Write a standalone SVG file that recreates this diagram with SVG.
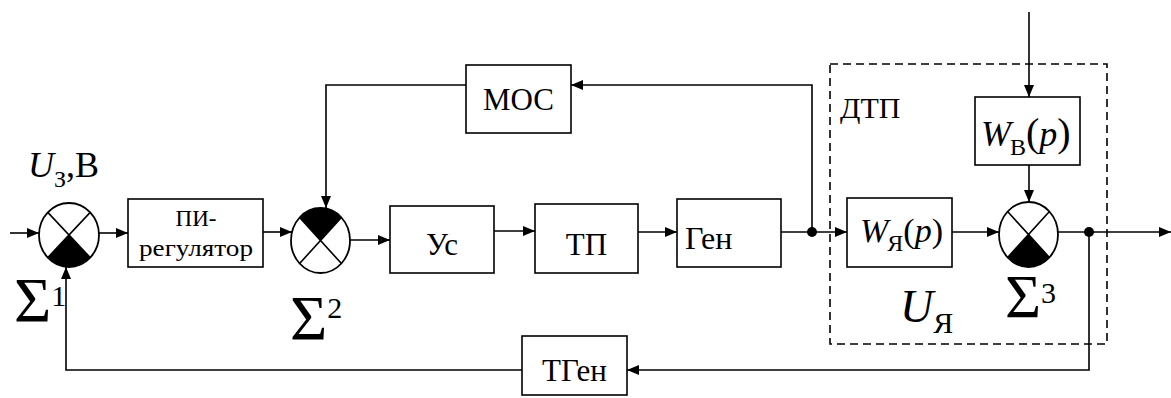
<svg xmlns="http://www.w3.org/2000/svg" width="1171" height="398" viewBox="0 0 1171 398" font-family="Liberation Serif, Times New Roman, Tinos, DejaVu Serif, Noto Serif, FreeSerif, serif">
<defs>
<marker id="ah" viewBox="0 0 12 10" refX="12" refY="5" markerWidth="12" markerHeight="10" markerUnits="userSpaceOnUse" orient="auto">
<path d="M0,0 L12,5 L0,10 Z" fill="#000"/>
</marker>
<style>
.box{fill:#fff;stroke:#000;stroke-width:1.6}
.ln{fill:none;stroke:#000;stroke-width:1.6}
.ar{fill:none;stroke:#000;stroke-width:1.6;marker-end:url(#ah)}
.t{font-family:Liberation Serif,Times New Roman,Tinos,DejaVu Serif,Noto Serif,FreeSerif,serif;fill:#000}
.i{font-style:italic}
.sum{fill:#fff;stroke:#000;stroke-width:1.8}
.dash{fill:none;stroke:#000;stroke-width:1.6;stroke-dasharray:8 5}
</style>
</defs>
<rect width="1171" height="398" fill="#fff"/>

<g id="dtp-frame">
<rect class="dash" x="830" y="64" width="277" height="280"/>
<text class="t" x="840" y="118" font-size="30">ДТП</text>
<text class="t i" x="900" y="322" font-size="46">U<tspan font-size="30" dy="11" font-style="normal">Я</tspan></text>
</g>

<g id="connectors">
<line class="ar" x1="10" y1="233" x2="39" y2="233"/>
<line class="ar" x1="99" y1="233" x2="128" y2="233"/>
<line class="ar" x1="263" y1="232" x2="292" y2="232"/>
<path class="ar" d="M466,85 H326 V208"/>
<line class="ar" x1="350" y1="240" x2="390" y2="240"/>
<line class="ar" x1="494" y1="231" x2="535" y2="231"/>
<line class="ar" x1="638" y1="232" x2="677" y2="232"/>
<line class="ar" x1="781" y1="232" x2="847" y2="232"/>
<path class="ar" d="M812,232 V85 H571"/>
<line class="ar" x1="952" y1="232" x2="999" y2="232"/>
<line class="ar" x1="1029" y1="12" x2="1029" y2="97"/>
<line class="ar" x1="1029" y1="165" x2="1029" y2="202"/>
<line class="ar" x1="1058" y1="232" x2="1171" y2="232"/>
<path class="ar" d="M1089,232 V370 H627"/>
<path class="ar" d="M522,370 H66 V267"/>
<circle cx="812" cy="232" r="5"/>
<circle cx="1089" cy="232" r="5"/>
</g>

<g id="sum1">
<ellipse class="sum" cx="69" cy="235" rx="30" ry="32"/>
<path d="M69,235 L47.8,257.6 A30,32 0 0 0 90.2,257.6 Z" fill="#000"/>
<path class="ln" d="M47.8,212.4 L90.2,257.6 M90.2,212.4 L47.8,257.6"/>
<text class="t" x="14" y="322" font-size="64">Σ<tspan font-size="30" dy="-16">1</tspan></text>
<text class="t" x="28" y="177" font-size="36"><tspan font-style="italic">U</tspan><tspan font-size="24" dy="10">З</tspan><tspan dy="-10">,B</tspan></text>
</g>

<g id="pi">
<rect class="box" x="128" y="199" width="135" height="68"/>
<text class="t" x="196" y="226" font-size="23" text-anchor="middle">ПИ-</text>
<text class="t" x="196" y="256" font-size="23" text-anchor="middle" textLength="114" lengthAdjust="spacingAndGlyphs">регулятор</text>
</g>

<g id="sum2">
<ellipse class="sum" cx="320.5" cy="240.5" rx="29.5" ry="32.5"/>
<path d="M320.5,240.5 L299.6,217.5 A29.5,32.5 0 0 1 341.4,217.5 Z" fill="#000"/>
<path class="ln" d="M299.6,217.5 L341.4,263.5 M341.4,217.5 L299.6,263.5"/>
<text class="t" x="290" y="340" font-size="64">Σ<tspan font-size="30" dy="-22">2</tspan></text>
</g>

<g id="moc">
<rect class="box" x="466" y="65" width="105" height="68"/>
<text class="t" x="518.5" y="110" font-size="31" text-anchor="middle">МОС</text>
</g>

<g id="us">
<rect class="box" x="390" y="206" width="104" height="67"/>
<text class="t" x="442" y="255" font-size="31" text-anchor="middle">Ус</text>
</g>

<g id="tp">
<rect class="box" x="535" y="204" width="103" height="69"/>
<text class="t" x="586.5" y="255" font-size="31" text-anchor="middle">ТП</text>
</g>

<g id="gen">
<rect class="box" x="677" y="199" width="104" height="68"/>
<text class="t" x="685" y="249" font-size="32">Ген</text>
</g>

<g id="wya">
<rect class="box" x="847" y="198" width="105" height="69"/>
<text class="t" x="860" y="242" font-size="34"><tspan font-style="italic">W</tspan><tspan font-size="24" dy="9" dx="-1">Я</tspan><tspan dy="-9">(</tspan><tspan font-style="italic">p</tspan>)</text>
</g>

<g id="wb">
<rect class="box" x="975" y="97" width="105" height="68"/>
<text class="t" x="981" y="146" font-size="36"><tspan font-style="italic">W</tspan><tspan font-size="24" dy="9" dx="-1">B</tspan><tspan dy="-9" font-size="40">(</tspan><tspan font-style="italic">p</tspan><tspan font-size="40">)</tspan></text>
</g>

<g id="sum3">
<ellipse class="sum" cx="1028.5" cy="234.5" rx="29.5" ry="32.5"/>
<path d="M1028.5,234.5 L1007.6,257.5 A29.5,32.5 0 0 0 1049.4,257.5 Z" fill="#000"/>
<path class="ln" d="M1007.6,211.5 L1049.4,257.5 M1049.4,211.5 L1007.6,257.5"/>
<text class="t" x="1005" y="317" font-size="62">Σ<tspan font-size="30" dy="-14">3</tspan></text>
</g>

<g id="tgen">
<rect class="box" x="522" y="336" width="105" height="59"/>
<text class="t" x="574.5" y="381" font-size="31" text-anchor="middle">ТГен</text>
</g>
</svg>
